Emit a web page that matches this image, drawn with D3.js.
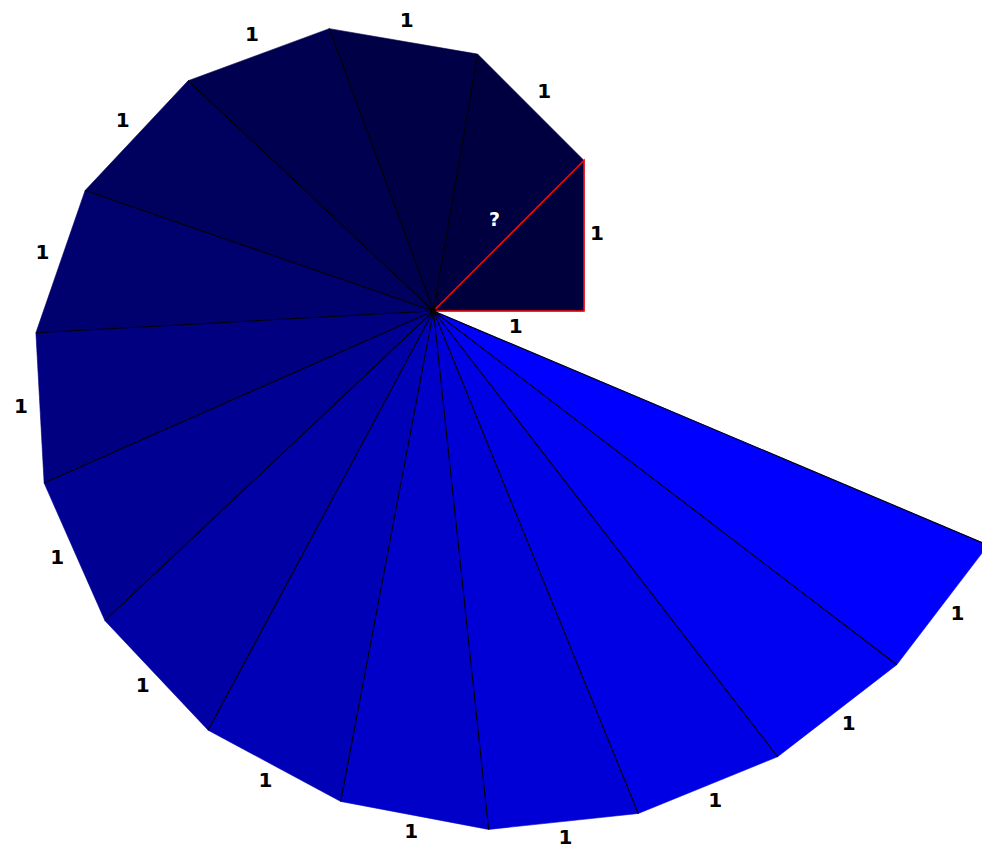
<!DOCTYPE html>
<html><head><meta charset="utf-8">
<script src="https://cdn.jsdelivr.net/npm/d3@7"></script>
<style>html,body{margin:0;padding:0;background:#fff;overflow:hidden}</style>
</head><body>
<svg id="c" width="982" height="849"></svg>
<script>
// Data: outer legs of the 15 triangles of the spiral of Theodorus (first leg = base)
const baseLeg = 1;
const outerLegs = [1,1,1,1,1,1,1,1,1,1,1,1,1,1,1];
const legLabels = ["1","1","1","1","1","1","1","1","1","1","1","1","1","1","1"];
const baseLabel = "1";
const questionLabel = "?";
const blueLevels = [60, 64, 70, 80, 94, 110, 128, 146, 164, 182, 200, 214, 228, 242, 255];

const svg = d3.select("#c");
const cx = 433.5, cy = 311;
const r = d3.scaleLinear().domain([0, 1]).range([0, 150.5]);

// build vertices
const verts = [];
let ang = 0, len = baseLeg;
verts.push({a: ang, l: len});
outerLegs.forEach(leg => {
  ang += Math.atan2(leg, len);
  len = Math.sqrt(len*len + leg*leg);
  verts.push({a: ang, l: len});
});
const pt = v => [cx + r(v.l)*Math.cos(v.a), cy - r(v.l)*Math.sin(v.a)];
const P = verts.map(pt);
const O = [cx, cy];

const tris = outerLegs.map((leg, i) => ({i, a: P[i], b: P[i+1], dir: verts[i]}));
const color = d3.scaleOrdinal().domain(d3.range(15)).range(blueLevels.map(b => d3.rgb(0,0,b).toString()));

svg.selectAll("path.tri").data(tris).join("path")
  .attr("class","tri")
  .attr("d", d => d3.line()([O, d.a, d.b]) + "Z")
  .attr("fill", d => color(d.i))
  .attr("stroke", d => color(d.i))
  .attr("stroke-width", 0.6);

// spokes (black)
svg.selectAll("line.spoke").data(d3.range(2, P.length)).join("line")
  .attr("class","spoke")
  .attr("x1", cx).attr("y1", cy)
  .attr("x2", i => P[i][0]).attr("y2", i => P[i][1])
  .attr("stroke", "#000").attr("stroke-width", 1.1);

// first triangle outlined in red
svg.append("path")
  .attr("d", d3.line()([O, P[0], P[1]]) + "Z")
  .attr("fill", "none").attr("stroke", "#ff0000").attr("stroke-width", 1.6);

svg.append("circle").attr("cx", cx).attr("cy", cy).attr("r", 3).attr("fill", "#000");

const font = "'DejaVu Sans', Verdana, sans-serif";
const fs = 20;
// outer leg labels
const off = 19;
svg.selectAll("text.leg").data(tris).join("text")
  .attr("class","leg")
  .attr("x", d => (d.a[0]+d.b[0])/2 + (d.i === 0 ? 13 : off)*Math.cos(d.dir.a))
  .attr("y", d => (d.a[1]+d.b[1])/2 - off*Math.sin(d.dir.a) - 3)
  .attr("text-anchor","middle").attr("dominant-baseline","central")
  .attr("font-family", font).attr("font-weight","bold").attr("font-size", fs)
  .attr("fill","#000")
  .text(d => legLabels[d.i]);

// base label
svg.append("text")
  .attr("x", (cx + P[0][0])/2 + 7).attr("y", cy + 15)
  .attr("text-anchor","middle").attr("dominant-baseline","central")
  .attr("font-family", font).attr("font-weight","bold").attr("font-size", fs)
  .text(baseLabel);

// question mark on the hypotenuse
const hm = [(cx + P[1][0])/2, (cy + P[1][1])/2];
const na = verts[1].a + Math.PI/2;
svg.append("text")
  .attr("x", hm[0] + 20*Math.cos(na)).attr("y", hm[1] - 20*Math.sin(na) - 3)
  .attr("text-anchor","middle").attr("dominant-baseline","central")
  .attr("font-family", font).attr("font-weight","bold").attr("font-size", 19)
  .attr("fill","#fff")
  .text(questionLabel);
</script>
</body></html>
